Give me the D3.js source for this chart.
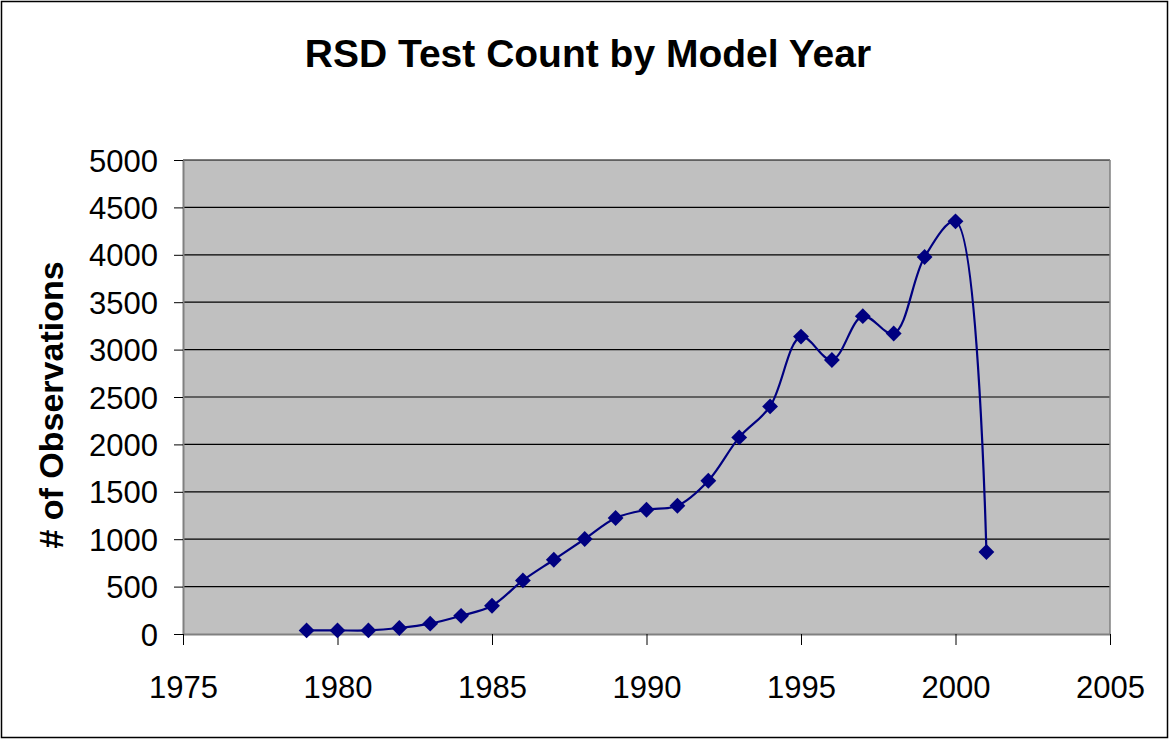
<!DOCTYPE html>
<html>
<head>
<meta charset="utf-8">
<script src="https://cdn.jsdelivr.net/npm/d3@7"></script>
<style>
  body { margin: 0; background: #fff; }
  svg text { font-family: Arial, "Liberation Sans", sans-serif; fill: #000; }
</style>
</head>
<body>
<svg id="chart" width="1170" height="740"></svg>
<script>
// model years and test counts
var years = [1979, 1980, 1981, 1982, 1983, 1984, 1985, 1986, 1987, 1988, 1989,
             1990, 1991, 1992, 1993, 1994, 1995, 1996, 1997, 1998, 1999, 2000, 2001];
var counts = [38, 38, 38, 63, 109, 192, 298, 565, 783, 1002, 1224,
              1311, 1353, 1617, 2074, 2401, 3137, 2890, 3353, 3170, 3977, 4353, 865];
var xTicks = [1975, 1980, 1985, 1990, 1995, 2000, 2005];
var yTicks = [0, 500, 1000, 1500, 2000, 2500, 3000, 3500, 4000, 4500, 5000];

(function() {
    var svg = d3.select('#chart');
    var plotL = 183, plotR = 1110, plotT = 160, plotB = 634;

    var x = d3.scaleLinear().domain([1975, 2005]).range([plotL, plotR]);
    var y = d3.scaleLinear().domain([0, 5000]).range([plotB, plotT]);

    // outer frame
    svg.append('rect')
        .attr('x', 1.5).attr('y', 1.5)
        .attr('width', 1166).attr('height', 736)
        .attr('fill', '#fff').attr('stroke', '#000').attr('stroke-width', 1.5);

    svg.append('text')
        .attr('x', 588).attr('y', 67)
        .attr('text-anchor', 'middle')
        .style('font-size', '39px').style('font-weight', 'bold')
        .text('RSD Test Count by Model Year');

    // plot area
    svg.append('rect')
        .attr('x', plotL).attr('y', plotT)
        .attr('width', plotR - plotL).attr('height', plotB - plotT)
        .attr('fill', '#c0c0c0');

    svg.append('g').selectAll('line')
        .data(yTicks.slice(1))
        .enter().append('line')
        .attr('x1', plotL).attr('x2', plotR)
        .attr('y1', function(d) { return y(d); })
        .attr('y2', function(d) { return y(d); })
        .attr('stroke', '#000').attr('stroke-width', 1.2);

    svg.append('line')
        .attr('x1', plotR).attr('x2', plotR).attr('y1', plotT).attr('y2', plotB)
        .attr('stroke', '#808080').attr('stroke-width', 1.5);

    var yAxis = svg.append('g')
        .attr('transform', 'translate(' + plotL + ',0)')
        .call(d3.axisLeft(y).tickValues(yTicks).tickSize(9).tickSizeOuter(0).tickPadding(16).tickFormat(d3.format('d')));
    yAxis.select('.domain').attr('stroke', '#808080').attr('stroke-width', 2);
    yAxis.selectAll('.tick line').attr('stroke', '#000');
    yAxis.selectAll('text').style('font-size', '31px').attr('dy', '0.36em');

    var xAxis = svg.append('g')
        .attr('transform', 'translate(0,' + plotB + ')')
        .call(d3.axisBottom(x).tickValues(xTicks).tickSize(11).tickSizeOuter(0).tickPadding(31).tickFormat(d3.format('d')));
    xAxis.select('.domain').attr('stroke', '#808080').attr('stroke-width', 2);
    xAxis.selectAll('.tick line').attr('stroke', '#000');
    xAxis.selectAll('text').style('font-size', '31px');

    svg.append('text')
        .attr('transform', 'translate(63,405) rotate(-90)')
        .attr('text-anchor', 'middle')
        .style('font-size', '34px').style('font-weight', 'bold')
        .text('# of Observations');

    var pts = years.map(function(yr, i) { return [yr, counts[i]]; });

    var line = d3.line()
        .x(function(d) { return x(d[0]); })
        .y(function(d) { return y(d[1]); })
        .curve(d3.curveCatmullRom.alpha(0.5));

    svg.append('path')
        .datum(pts)
        .attr('d', line)
        .attr('fill', 'none')
        .attr('stroke', '#000080')
        .attr('stroke-width', 2.2);

    var diamond = d3.symbol().type(d3.symbolDiamond2).size(160);
    svg.append('g').selectAll('path')
        .data(pts)
        .enter().append('path')
        .attr('d', diamond)
        .attr('transform', function(d) { return 'translate(' + x(d[0]) + ',' + y(d[1]) + ')'; })
        .attr('fill', '#000080');
})();
</script>
</body>
</html>
